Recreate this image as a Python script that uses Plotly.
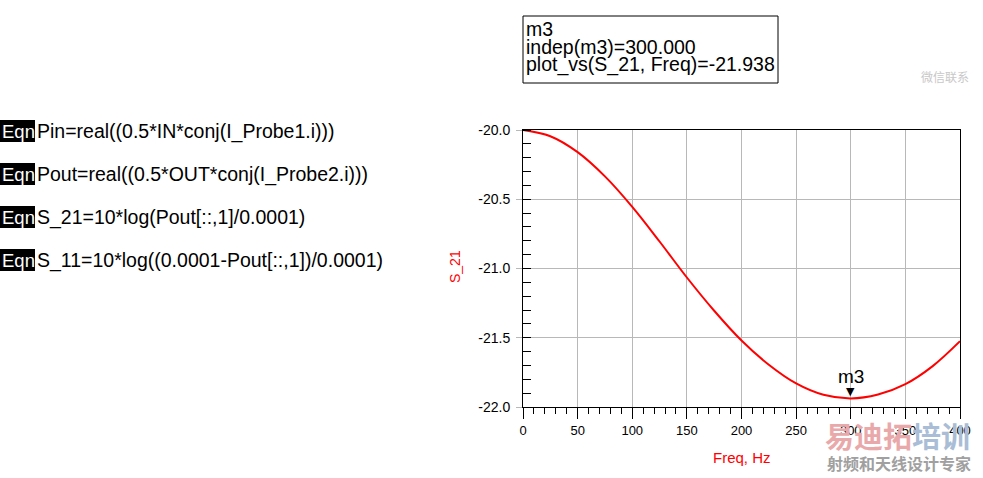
import plotly.graph_objects as go

# ---------------- data ----------------
freq = [0, 25, 50, 75, 100, 125, 150, 175, 200, 225, 250, 275, 300, 325, 350, 375, 400]
s21 = [-20.000, -20.045, -20.160, -20.335, -20.555, -20.805, -21.065, -21.305,
       -21.520, -21.695, -21.830, -21.912, -21.938, -21.910, -21.835, -21.705, -21.525]
marker_name = "m3"
marker_freq = 300
marker_val = -21.938
box_lines = ["m3", "indep(m3)=300.000", "plot_vs(S_21, Freq)=-21.938"]
eqn_lines = [
    "Pin=real((0.5*IN*conj(I_Probe1.i)))",
    "Pout=real((0.5*OUT*conj(I_Probe2.i)))",
    "S_21=10*log(Pout[::,1]/0.0001)",
    "S_11=10*log((0.0001-Pout[::,1])/0.0001)",
]
x_ticks = [0, 50, 100, 150, 200, 250, 300, 350, 400]
y_ticks = [-22.0, -21.5, -21.0, -20.5, -20.0]

# ---------------- layout helpers ----------------
W, H = 983, 478
L, R, T, B = 523, 960, 130, 407
FONT = "Liberation Sans, Arial, sans-serif"


def pxx(px):
    return (px - L) / (R - L)


def pxy(py):
    return (B - py) / (B - T)


fig = go.Figure()
fig.add_trace(go.Scatter(
    x=freq, y=s21, mode="lines", line=dict(color="#ff0000", width=2, shape="spline"),
    hoverinfo="skip", showlegend=False))

annotations = []
shapes = []

# marker triangle and label
annotations.append(dict(x=marker_freq, y=marker_val, xref="x", yref="y", text="▼",
                        showarrow=False, yanchor="bottom", yshift=-2,
                        font=dict(family="DejaVu Sans", size=11, color="black")))
annotations.append(dict(x=marker_freq, y=marker_val, xref="x", yref="y", text=marker_name,
                        showarrow=False, yanchor="bottom", yshift=9,
                        font=dict(family=FONT, size=19, color="black")))

# marker readout box
shapes.append(dict(type="rect", xref="paper", yref="paper",
                   x0=pxx(523), x1=pxx(778), y0=pxy(83), y1=pxy(16),
                   line=dict(color="black", width=1), fillcolor="white"))
for i, t in enumerate(box_lines):
    annotations.append(dict(x=pxx(524), y=pxy(29 + 17.7 * i), xref="paper", yref="paper",
                            text=t, showarrow=False, xanchor="left", yanchor="middle",
                            font=dict(family=FONT, size=19.5, color="black")))

# equations
for i, t in enumerate(eqn_lines):
    cy = 131 + 43 * i
    shapes.append(dict(type="rect", xref="paper", yref="paper",
                       x0=pxx(0), x1=pxx(35), y0=pxy(cy + 11), y1=pxy(cy - 11),
                       line=dict(width=0), fillcolor="black"))
    annotations.append(dict(x=pxx(0), y=pxy(cy), xref="paper", yref="paper", text="Eqn",
                            showarrow=False, xanchor="left", yanchor="middle",
                            font=dict(family=FONT, size=18.5, color="white")))
    annotations.append(dict(x=pxx(35), y=pxy(cy), xref="paper", yref="paper", text=t,
                            showarrow=False, xanchor="left", yanchor="middle",
                            font=dict(family=FONT, size=19.5, color="black")))

# axis titles
annotations.append(dict(x=pxx(741.5), y=pxy(457), xref="paper", yref="paper", text="Freq, Hz",
                        showarrow=False, xanchor="center", yanchor="middle",
                        font=dict(family=FONT, size=15, color="#ff0000")))
annotations.append(dict(x=pxx(455), y=pxy(267), xref="paper", yref="paper", text="S_21",
                        showarrow=False, xanchor="center", yanchor="middle", textangle=-90,
                        font=dict(family=FONT, size=14, color="#ff0000")))

# watermark texts
annotations.append(dict(x=pxx(823), y=pxy(435), xref="paper", yref="paper",
                        text="<b><span style='color:#e9a9ab'>易迪拓</span><span style='color:#a9bdd6'>培训</span></b>",
                        showarrow=False, xanchor="left", yanchor="middle",
                        font=dict(family="Noto Sans CJK SC", size=29, color="#e9a9ab")))
annotations.append(dict(x=pxx(899), y=pxy(463), xref="paper", yref="paper",
                        text="<b>射频和天线设计专家</b>", showarrow=False, xanchor="center",
                        yanchor="middle",
                        font=dict(family="Noto Sans CJK SC", size=16, color="#a0a0a0")))
annotations.append(dict(x=pxx(945), y=pxy(77), xref="paper", yref="paper",
                        text="微信联系", showarrow=False, xanchor="center", yanchor="middle",
                        font=dict(family="Noto Sans CJK SC", size=12, color="#c8c8c8")))

fig.update_layout(
    width=W, height=H,
    margin=dict(l=L, r=W - R, t=T, b=H - B, pad=0),
    paper_bgcolor="white", plot_bgcolor="white",
    font=dict(family=FONT, size=13, color="black"),
    showlegend=False,
    annotations=annotations, shapes=shapes,
    xaxis=dict(range=[0, 400], tickvals=x_ticks, ticktext=[str(v) for v in x_ticks],
               showgrid=True, gridcolor="#b8b8b8", gridwidth=1,
               showline=True, linecolor="black", linewidth=1, mirror=True,
               ticks="outside", ticklen=11, tickcolor="black", tickwidth=1,
               tickfont=dict(family=FONT, size=13, color="black"),
               minor=dict(dtick=10, ticks="outside", ticklen=6, tickcolor="black", showgrid=False),
               zeroline=False, fixedrange=True),
    yaxis=dict(range=[-22, -20], tickvals=y_ticks, ticktext=[f"{v:.1f}" for v in y_ticks],
               showgrid=True, gridcolor="#b8b8b8", gridwidth=1,
               showline=True, linecolor="black", linewidth=1, mirror=True,
               ticks="outside", ticklen=6, tickcolor="#b8b8b8", tickwidth=1,
               ticklabelstandoff=3,
               tickfont=dict(family=FONT, size=14, color="black"),
               minor=dict(dtick=0.1, ticks="inside", ticklen=8, tickcolor="black", showgrid=False),
               zeroline=False, fixedrange=True),
)

fig.write_html("out.html", config={"displayModeBar": False},
               post_script="document.body.style.margin='0px';document.body.style.overflow='hidden';")
